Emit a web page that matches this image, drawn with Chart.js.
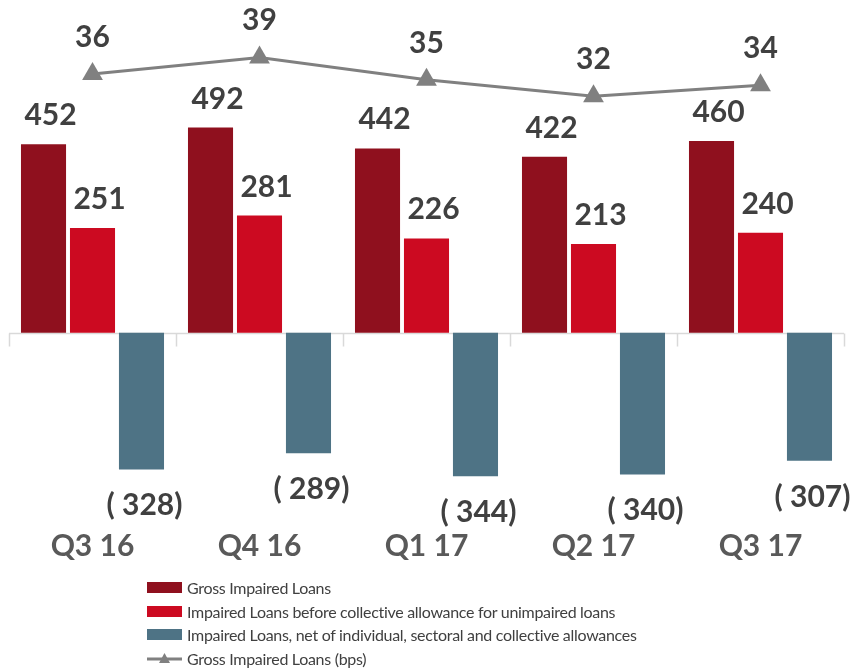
<!DOCTYPE html>
<html>
<head>
<meta charset="utf-8">
<script src="https://cdn.jsdelivr.net/npm/chart.js@4"></script>
<style>
  html, body { margin: 0; padding: 0; background: #fff; }
  #wrap { position: relative; width: 858px; height: 669px; }
  #legend { position: absolute; left: 147px; top: 576px; font-family: Lato, sans-serif; font-size: 16px; letter-spacing: -0.3px; color: #404040; }
  .item { display: flex; align-items: center; height: 23.5px; white-space: nowrap; }
  .swatch { width: 35px; height: 11px; margin-right: 5px; flex: none; }
  .swatch svg { display: block; }
</style>
</head>
<body>
<div id="wrap">
  <canvas id="gil" width="858" height="669"></canvas>
  <div id="legend"></div>
</div>
<script>
const quarters = ['Q3 16', 'Q4 16', 'Q1 17', 'Q2 17', 'Q3 17'];
const grossImpaired = [452, 492, 442, 422, 460];
const beforeCollective = [251, 281, 226, 213, 240];
const netOfAllowances = [-328, -289, -344, -340, -307];
const grossBps = [36, 39, 35, 32, 34];

const labelFont = 'bold 30px Lato';

// zero line with short ticks between the quarters
const zeroAxis = {
  id: 'zeroAxis',
  beforeDatasetsDraw(chart) {
    const { ctx, chartArea, scales: { x, y } } = chart;
    const y0 = Math.round(y.getPixelForValue(0)) + 0.5;
    const half = (x.getPixelForValue(1) - x.getPixelForValue(0)) / 2;
    ctx.save();
    ctx.strokeStyle = '#d9d9d9';
    ctx.lineWidth = 1.5;
    ctx.beginPath();
    ctx.moveTo(chartArea.left, y0);
    ctx.lineTo(chartArea.right, y0);
    for (let i = 0; i <= quarters.length; i++) {
      const bx = Math.round(x.getPixelForValue(i) - half) + 0.5;
      ctx.moveTo(bx, y0);
      ctx.lineTo(bx, y0 + 13);
    }
    ctx.stroke();
    ctx.restore();
  }
};

// value labels over bars and line points
const valueLabels = {
  id: 'valueLabels',
  afterDatasetsDraw(chart) {
    const ctx = chart.ctx;
    ctx.save();
    ctx.font = labelFont;
    ctx.fillStyle = '#404040';
    ctx.textAlign = 'center';
    ctx.textBaseline = 'alphabetic';
    chart.data.datasets.forEach((ds, i) => {
      chart.getDatasetMeta(i).data.forEach((el, j) => {
        const v = ds.data[j];
        if (ds.type === 'line') {
          ctx.fillText(String(v), el.x, el.y - 27);
        } else if (v < 0) {
          ctx.fillText('( ' + (-v) + ')', el.x + 3, el.y + 46);
        } else {
          ctx.fillText(String(v), el.x + 7, el.y - 19);
        }
      });
    });
    ctx.restore();
  }
};

const chart = new Chart('gil', {
  data: {
    labels: quarters,
    datasets: [
      { type: 'bar', label: 'Gross Impaired Loans', data: grossImpaired, backgroundColor: '#8f101e', yAxisID: 'y', order: 1 },
      { type: 'bar', label: 'Impaired Loans before collective allowance for unimpaired loans', data: beforeCollective, backgroundColor: '#cc0a21', yAxisID: 'y', order: 1 },
      { type: 'bar', label: 'Impaired Loans, net of individual, sectoral and collective allowances', data: netOfAllowances, backgroundColor: '#4e7385', yAxisID: 'y', order: 1 },
      { type: 'line', label: 'Gross Impaired Loans (bps)', data: grossBps, borderColor: '#808080', backgroundColor: '#808080',
        borderWidth: 3, pointStyle: 'triangle', pointRadius: 12, pointBorderWidth: 0, yAxisID: 'y2', order: 0 }
    ]
  },
  options: {
    responsive: false,
    animation: false,
    layout: { autoPadding: false, padding: { left: 9, right: 14, top: 0, bottom: 99 } },
    datasets: {
      bar: { categoryPercentage: 0.88, barPercentage: 0.92 }
    },
    scales: {
      x: {
        grid: { display: false, drawTicks: false },
        border: { display: false },
        ticks: { font: { family: 'Lato', size: 30, weight: 'bold' }, color: '#595959', padding: 6 }
      },
      y: { display: false, min: -454, max: 798 },
      y2: { display: false, min: -44.7, max: 49.35 }
    },
    plugins: {
      legend: { display: false },
      tooltip: { enabled: false }
    }
  },
  plugins: [zeroAxis, valueLabels]
});

// legend rows built from the datasets
const legend = document.getElementById('legend');
chart.data.datasets.forEach(ds => {
  const row = document.createElement('div');
  row.className = 'item';
  const sw = document.createElement('span');
  sw.className = 'swatch';
  if (ds.type === 'line') {
    sw.innerHTML = '<svg width="35" height="11"><line x1="0" y1="6" x2="35" y2="6" stroke="' + ds.borderColor +
      '" stroke-width="3"/><polygon points="17.5,0 23,10 12,10" fill="' + ds.borderColor + '"/></svg>';
  } else {
    sw.style.background = ds.backgroundColor;
  }
  row.appendChild(sw);
  row.appendChild(document.createTextNode(ds.label));
  legend.appendChild(row);
});
</script>
</body>
</html>
